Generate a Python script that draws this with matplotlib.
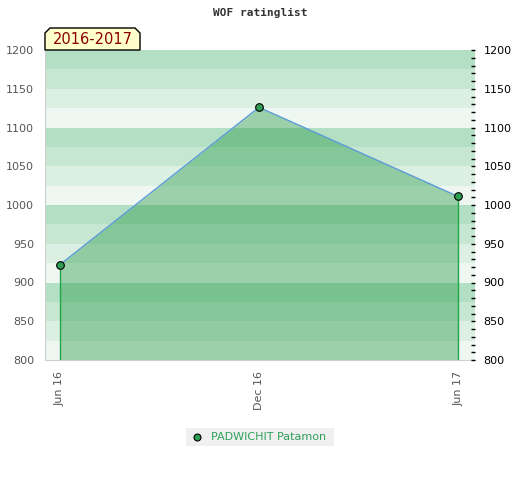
import numpy as np
import matplotlib
matplotlib.use("Agg")
import matplotlib.pyplot as plt
from matplotlib.patches import Polygon

# data
dates = ["Jun 16", "Dec 16", "Jun 17"]
rating = [923, 1126, 1011]
player = "PADWICHIT Patamon"
period = "2016-2017"
title = "WOF ratinglist"

ymin, ymax = 800, 1200
band_cols = ["#eef7f1", "#dcefe3", "#c8e7d3", "#b3dfc4"]  # bottom -> top in each 100 block

fig = plt.figure(figsize=(5.2, 4.8), dpi=100)
ax = fig.add_axes([45/520, 120/480, 430/520, 310/480])

# striped background, 25 point bands
for i, lo in enumerate(range(ymin, ymax, 25)):
    ax.axhspan(lo, lo + 25, color=band_cols[i % 4], lw=0, zorder=0)

x = np.arange(len(dates))
ax.fill_between(x, rating, ymin, color="#289b49", alpha=0.42, lw=0, zorder=1)
ax.vlines([x[0], x[-1]], ymin, [rating[0], rating[-1]], color="#22a64a", lw=1, zorder=2)
ax.plot(x, rating, color="#5b9bd5", lw=1, zorder=3)
ax.plot(x, rating, ls="none", marker="o", ms=5.5, mfc="#2e9e55", mec="black", mew=0.8, zorder=4)

ax.set_xlim(-0.075, 2.085)
ax.set_ylim(ymin, ymax)
for s in ax.spines.values():
    s.set_visible(False)
ax.spines["left"].set_visible(True)
ax.spines["bottom"].set_visible(True)
ax.spines["left"].set_color("#d0d0d0")
ax.spines["bottom"].set_color("#d0d0d0")

ax.set_xticks(x)
ax.set_xticklabels(dates, rotation=90, color="#555555", fontsize=8)
ax.tick_params(axis="x", length=0, pad=8)
yt = np.arange(ymin, ymax + 1, 50)
ax.set_yticks(yt)
ax.tick_params(axis="y", length=0, labelsize=8, labelcolor="#555555", pad=8)

ax2 = ax.twinx()
ax2.set_ylim(ymin, ymax)
ax2.set_yticks(yt)
ax2.set_yticks(np.arange(ymin, ymax + 1, 10), minor=True)
ax2.tick_params(axis="y", which="both", direction="in", length=3, width=1,
                labelsize=8, labelcolor="black", pad=6)
ax2.tick_params(axis="y", which="major", length=3)
for s in ax2.spines.values():
    s.set_visible(False)

fig.text(0.5, 1 - 13/480, title, ha="center", va="center", fontsize=8,
         family="DejaVu Sans Mono", fontweight="bold", color="#333333")

# period label box with clipped top corners
bx0, bx1, by0, by1, c = 45, 140, 430, 452, 5
pts = [(bx0, by0), (bx0, by1 - c), (bx0 + c, by1), (bx1 - c, by1), (bx1, by1 - c), (bx1, by0)]
pts = [(px/520, py/480) for px, py in pts]
fig.patches.append(Polygon(pts, closed=True, transform=fig.transFigure,
                           facecolor="#ffffcc", edgecolor="black", lw=1, zorder=5))
fig.text((bx0 + bx1)/2/520, (by0 + by1)/2/480 - 0.002, period, ha="center", va="center",
         fontsize=10.5, color="#8b0000", zorder=6)

# legend
lx0, lx1, ly0, ly1 = 186, 334, 428, 446
fig.patches.append(plt.Rectangle((lx0/520, 1 - ly1/480), (lx1 - lx0)/520, (ly1 - ly0)/480,
                                 transform=fig.transFigure, facecolor="#f0f0f0", lw=0))
fig.lines.append(plt.Line2D([197/520], [1 - 437/480], transform=fig.transFigure, marker="o",
                            ms=5, mfc="#2e9e55", mec="black", mew=0.8, ls="none"))
fig.text(211/520, 1 - 437/480, player, ha="left", va="center", fontsize=8, color="#2ea05a")

fig.savefig("out.png", dpi=100)
